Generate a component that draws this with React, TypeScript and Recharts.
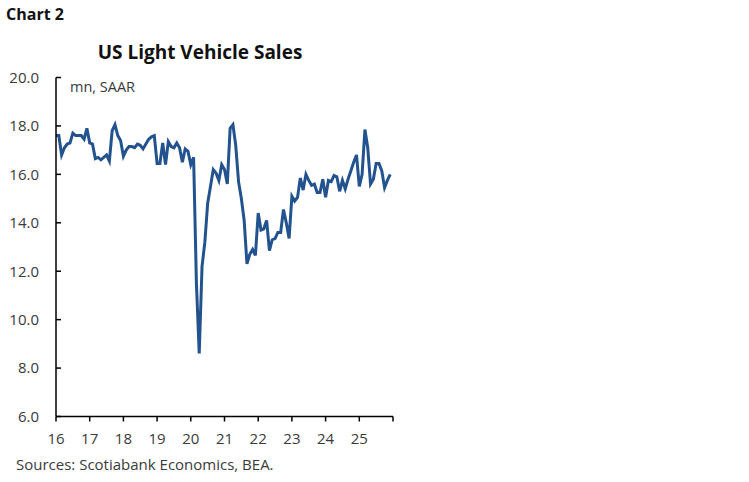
import React from "react";
import { LineChart, Line, XAxis, YAxis } from "recharts";

// Monthly US light vehicle sales, mn SAAR, Jan 2016 .. Dec 2025
const sales2016 = [17.6, 17.6, 16.8, 17.1, 17.25, 17.3, 17.7, 17.6, 17.6, 17.6, 17.45, 17.9];
const sales2017 = [17.3, 17.25, 16.65, 16.7, 16.6, 16.7, 16.8, 16.55, 17.8, 18.05, 17.6, 17.4];
const sales2018 = [16.75, 17.0, 17.15, 17.15, 17.1, 17.25, 17.2, 17.05, 17.25, 17.45, 17.55, 17.6];
const sales2019 = [16.45, 16.45, 17.3, 16.4, 17.35, 17.15, 17.1, 17.3, 17.1, 16.5, 17.05, 16.95];
const sales2020 = [16.4, 16.7, 11.5, 8.6, 12.2, 13.2, 14.8, 15.5, 16.2, 16.05, 15.75, 16.4];
const sales2021 = [16.2, 15.6, 17.9, 18.05, 17.2, 15.7, 15.0, 14.1, 12.3, 12.7, 12.9, 12.65];
const sales2022 = [14.4, 13.7, 13.75, 14.1, 12.85, 13.3, 13.35, 13.6, 13.6, 14.55, 14.0, 13.35];
const sales2023 = [15.1, 14.9, 15.05, 15.85, 15.35, 16.0, 15.75, 15.55, 15.6, 15.25, 15.25, 15.8];
const sales2024 = [15.05, 15.75, 15.7, 15.95, 15.9, 15.3, 15.75, 15.4, 15.8, 16.15, 16.5, 16.8];
const sales2025 = [15.5, 16.0, 17.85, 17.1, 15.6, 15.8, 16.45, 16.45, 16.15, 15.45, 15.75, 16.0];

const yearLabels = ["16", "17", "18", "19", "20", "21", "22", "23", "24", "25", ""];
const yTicks = [6, 8, 10, 12, 14, 16, 18, 20];

const allSales = [
  ...sales2016, ...sales2017, ...sales2018, ...sales2019, ...sales2020,
  ...sales2021, ...sales2022, ...sales2023, ...sales2024, ...sales2025,
];
const data = allSales.map((v, i) => ({ m: i, v }));
const xTicks = yearLabels.map((_, i) => i * 12);

const FONT = "'Open Sans', Lato, sans-serif";
const TEXT = "#3a3a3a";

export default function App() {
  return (
    <div style={{ position: "absolute", left: 0, top: 0, width: 749, height: 482, background: "#fff", fontFamily: FONT }}>
      <div style={{ position: "absolute", left: 6, top: 3, fontSize: 16, fontWeight: 700, color: "#111", fontFamily: FONT }}>
        Chart 2
      </div>
      <div style={{ position: "absolute", left: 0, width: 400, top: 39, textAlign: "center", fontSize: 19, fontWeight: 700, color: "#111", fontFamily: FONT }}>
        US Light Vehicle Sales
      </div>
      <div style={{ position: "absolute", left: 70, top: 77, fontSize: 14.5, color: TEXT, fontFamily: FONT }}>
        mn, SAAR
      </div>
      <div style={{ position: "absolute", left: 16, top: 454, fontSize: 15, color: TEXT, fontFamily: FONT }}>
        Sources: Scotiabank Economics, BEA.
      </div>
      <div style={{ position: "absolute", left: 0, top: 0 }}>
        <LineChart width={749} height={482} data={data} margin={{ top: 77.5, right: 356, bottom: 35.5, left: 16 }}>
          <XAxis
            dataKey="m"
            type="number"
            domain={[0, 120]}
            ticks={xTicks}
            interval={0}
            tickFormatter={(v: number) => yearLabels[Math.round(v / 12)]}
            height={30}
            tickSize={5}
            tickMargin={12}
            axisLine={{ stroke: "#000", strokeWidth: 1.5 }}
            tickLine={{ stroke: "#000", strokeWidth: 1.5 }}
            tick={{ fill: TEXT, fontSize: 15, fontFamily: FONT }}
          />
          <YAxis
            type="number"
            domain={[6, 20]}
            ticks={yTicks}
            interval={0}
            width={40}
            tickSize={-5}
            tickMargin={22}
            tickFormatter={(v: number) => v.toFixed(1)}
            axisLine={{ stroke: "#000", strokeWidth: 1.5 }}
            tickLine={{ stroke: "#000", strokeWidth: 1.5 }}
            tick={{ fill: TEXT, fontSize: 15, fontFamily: FONT }}
          />
          <Line
            type="linear"
            dataKey="v"
            stroke="#23538f"
            strokeWidth={3}
            dot={false}
            isAnimationActive={false}
          />
        </LineChart>
      </div>
    </div>
  );
}
